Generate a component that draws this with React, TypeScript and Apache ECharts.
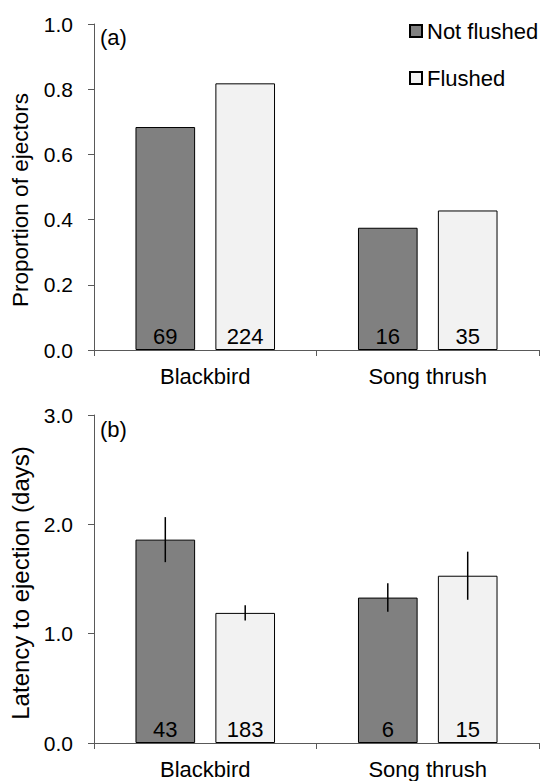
import React, { useEffect, useRef } from "react";
import * as echarts from "echarts";

const categories = ["Blackbird", "Song thrush"];
const seriesNames = ["Not flushed", "Flushed"];

// (a) proportion of ejectors
const propNotFlushed = [0.684, 0.375];
const propFlushed = [0.818, 0.428];
const nPropNotFlushed = [69, 16];
const nPropFlushed = [224, 35];

// (b) latency to ejection (days), mean and SE
const latNotFlushed = [1.86, 1.33];
const latFlushed = [1.19, 1.53];
const latErrNotFlushed = [0.206, 0.13];
const latErrFlushed = [0.07, 0.22];
const nLatNotFlushed = [43, 6];
const nLatFlushed = [183, 15];

const yTicksA = [0, 0.2, 0.4, 0.6, 0.8, 1.0];
const yTicksB = [0, 1, 2, 3];

const FONT = "Liberation Sans, Arial, Helvetica, sans-serif";
const AXIS_COLOR = "#595959";
const DARK = "#808080";
const LIGHT = "#f2f2f2";
const BAR_W = 0.268;
const BAR_GAP = 0.34;

export default function App() {
  const ref = useRef<HTMLDivElement>(null);

  useEffect(() => {
    if (!ref.current) return;
    const chart = echarts.init(ref.current, null, { renderer: "svg" });

    const xAxis = (gridIndex: number) => ({
      type: "category",
      gridIndex,
      data: categories,
      axisLine: { show: true, lineStyle: { color: AXIS_COLOR, width: 1 } },
      axisTick: { show: true, length: 6, lineStyle: { color: AXIS_COLOR, width: 1 } },
      axisLabel: { fontSize: 22, color: "#000", margin: 15, fontFamily: FONT },
    });

    const yAxis = (
      gridIndex: number,
      ticks: number[],
      name: string,
      nameSize: number,
      padding: number[]
    ) => ({
      type: "value",
      gridIndex,
      min: ticks[0],
      max: ticks[ticks.length - 1],
      interval: ticks[1] - ticks[0],
      name,
      nameLocation: "middle",
      nameGap: 62,
      nameTextStyle: { fontSize: nameSize, color: "#000", fontFamily: FONT, padding },
      splitLine: { show: false },
      axisLine: { show: true, lineStyle: { color: AXIS_COLOR, width: 1 } },
      axisTick: { show: true, length: 6, lineStyle: { color: AXIS_COLOR, width: 1 } },
      axisLabel: {
        fontSize: 21,
        color: "#000",
        margin: 21,
        fontFamily: FONT,
        formatter: (v: number) => v.toFixed(1),
      },
    });

    const bar = (
      name: string,
      idx: number,
      data: number[],
      ns: number[],
      color: string
    ) => ({
      type: "bar",
      name,
      xAxisIndex: idx,
      yAxisIndex: idx,
      data,
      barWidth: BAR_W * 100 + "%",
      barGap: BAR_GAP * 100 + "%",
      itemStyle: { color, borderColor: "#000", borderWidth: 1 },
      label: {
        show: true,
        position: "insideBottom",
        distance: 3,
        fontSize: 22,
        color: "#000",
        fontFamily: FONT,
        formatter: (p: any) => String(ns[p.dataIndex]),
      },
      z: 2,
    });

    const errData = [
      ...categories.map((_, i) => [i, latNotFlushed[i], latErrNotFlushed[i], 0]),
      ...categories.map((_, i) => [i, latFlushed[i], latErrFlushed[i], 1]),
    ];

    const option: any = {
      animation: false,
      textStyle: { fontFamily: FONT },
      title: [
        {
          text: "(a)",
          left: 100,
          top: 26,
          padding: 0,
          textStyle: { fontSize: 22, fontWeight: "normal", color: "#000", fontFamily: FONT },
        },
        {
          text: "(b)",
          left: 100,
          top: 418,
          padding: 0,
          textStyle: { fontSize: 22, fontWeight: "normal", color: "#000", fontFamily: FONT },
        },
      ],
      legend: {
        data: seriesNames,
        orient: "vertical",
        left: 409,
        top: 20,
        padding: 0,
        itemWidth: 12,
        itemHeight: 12,
        itemGap: 25,
        icon: "rect",
        textStyle: { fontSize: 22, color: "#000", fontFamily: FONT },
      },
      grid: [
        { left: 94, top: 24, width: 445, height: 326, outerBoundsMode: "none", containLabel: false },
        { left: 94, top: 415, width: 445, height: 328, outerBoundsMode: "none", containLabel: false },
      ],
      xAxis: [xAxis(0), xAxis(1)],
      yAxis: [
        yAxis(0, yTicksA, "Proportion of ejectors", 22.5, [0, 26, 0, 0]),
        yAxis(1, yTicksB, "Latency to ejection (days)", 24, [0, 8, 0, 0]),
      ],
      series: [
        bar(seriesNames[0], 0, propNotFlushed, nPropNotFlushed, DARK),
        bar(seriesNames[1], 0, propFlushed, nPropFlushed, LIGHT),
        bar(seriesNames[0], 1, latNotFlushed, nLatNotFlushed, DARK),
        bar(seriesNames[1], 1, latFlushed, nLatFlushed, LIGHT),
        {
          type: "custom",
          xAxisIndex: 1,
          yAxisIndex: 1,
          data: errData,
          encode: { x: 0, y: 1 },
          z: 5,
          silent: true,
          renderItem: (params: any, api: any) => {
            const cat = api.value(0);
            const v = api.value(1);
            const e = api.value(2);
            const g = api.value(3);
            const band = api.size([1, 0])[0];
            const off = (g === 0 ? -1 : 1) * (band * BAR_W * (1 + BAR_GAP)) / 2;
            const top = api.coord([cat, v + e]);
            const bot = api.coord([cat, v - e]);
            return {
              type: "line",
              shape: { x1: top[0] + off, y1: top[1], x2: top[0] + off, y2: bot[1] },
              style: { stroke: "#000", lineWidth: 1.5 },
            };
          },
        },
      ],
    };

    chart.setOption(option);
    return () => chart.dispose();
  }, []);

  return (
    <div
      ref={ref}
      style={{ position: "fixed", left: 0, top: 0, width: 545, height: 781, background: "#fff" }}
    />
  );
}
